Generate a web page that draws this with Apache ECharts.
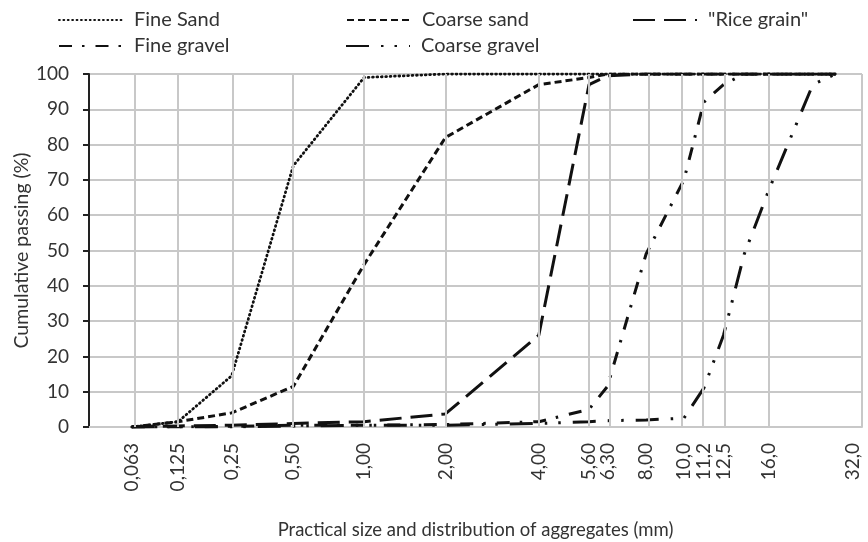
<!DOCTYPE html>
<html>
<head>
<meta charset="utf-8">
<script src="https://cdn.jsdelivr.net/npm/echarts@6/dist/echarts.min.js"></script>
<style>
  html, body { margin: 0; padding: 0; background: #fff; }
  #chart { width: 868px; height: 542px; }
</style>
</head>
<body>
<div id="chart"></div>
<script>
// Sieve sizes (mm) at which the cumulative passing was measured
const sieveSizes = [0.063, 0.125, 0.25, 0.5, 1, 2, 4, 5.6, 6.3, 8, 10, 11.2, 12.5, 14, 16, 20, 22.4];

// Cumulative passing (%) per aggregate, one value per sieve size
const fineSand     = [0, 1.5, 14.5, 74, 99, 100, 100, 100, 100, 100, 100, 100, 100, 100, 100, 100, 100];
const coarseSand   = [0, 1.5, 4, 11.5, 46, 82, 97, 99, 100, 100, 100, 100, 100, 100, 100, 100, 100];
const riceGrain    = [0, 0.3, 0.5, 1, 1.5, 3.7, 26, 97, 99.5, 100, 100, 100, 100, 100, 100, 100, 100];
const fineGravel   = [0, 0, 0.2, 0.5, 0.5, 0.7, 1.5, 5, 11.5, 49, 70, 92, 97, 100, 100, 100, 100];
const coarseGravel = [0, 0, 0, 0.3, 0.5, 0.5, 1, 1.5, 1.8, 2, 2.5, 11, 26, 49, 67.5, 97, 100];

// Labelled sieves on the size axis
const tickSizes  = [0.063, 0.125, 0.25, 0.5, 1, 2, 4, 5.6, 6.3, 8, 10, 11.2, 12.5, 16, 32];
const tickLabels = ['0,063', '0,125', '0,25', '0,50', '1,00', '2,00', '4,00', '5,60', '6,30', '8,00', '10,0', '11,2', '12,5', '16,0', '32,0'];

const yTicks = [0, 10, 20, 30, 40, 50, 60, 70, 80, 90, 100];

// Size axis uses a power-0.2 grading scale (d^0.2)
const EXP = 0.2;
const toAxis = d => Math.pow(d, EXP);
const X_MIN = 0.497;
const X_MAX = 1.9105;
// the open-ended top sieve is pinned just inside the frame
const tickPos = d => Math.min(toAxis(d), X_MAX - 0.016);

const tickValues = tickSizes.map(tickPos);
const gridValues = tickSizes.filter(d => toAxis(d) < X_MAX).map(toAxis).concat([X_MAX]);

function labelFor(v) {
  let best = 0, bestD = Infinity;
  tickValues.forEach((t, i) => {
    const dd = Math.abs(t - v);
    if (dd < bestD) { bestD = dd; best = i; }
  });
  return tickLabels[best];
}

const FONT = 'Lato';
const TEXT = '#333333';
const GRID = '#c8c8c8';

function pairs(values) {
  return sieveSizes.map((d, i) => [toAxis(d), values[i]]);
}

const seriesDefs = [
  { name: 'Fine Sand',     data: fineSand,     width: 2.8, type: [0.8, 3.6], cap: 'round' },
  { name: 'Coarse sand',   data: coarseSand,   width: 3,   type: [7, 4],     cap: 'butt' },
  { name: '"Rice grain"',  data: riceGrain,    width: 3,   type: [22, 9],    cap: 'butt' },
  { name: 'Fine gravel',   data: fineGravel,   width: 3,   type: [13, 10, 2.5, 11], cap: 'butt' },
  { name: 'Coarse gravel', data: coarseGravel, width: 3,   type: [23, 12, 2.5, 11, 2.5, 12], cap: 'butt' }
];

const series = seriesDefs.map(s => ({
  name: s.name,
  type: 'line',
  data: pairs(s.data),
  symbol: 'none',
  z: 3,
  lineStyle: { color: '#111', width: s.width, type: s.type, cap: s.cap, join: 'round' },
  itemStyle: { color: '#111' },
  emphasis: { disabled: true },
  silent: true
}));

// vertical sieve lines and right frame, drawn beneath the curves
series.unshift({
  name: 'grid',
  type: 'line',
  data: [],
  z: 1,
  silent: true,
  markLine: {
    silent: true,
    symbol: ['none', 'none'],
    label: { show: false },
    lineStyle: { color: GRID, type: 'solid', width: 2 },
    emphasis: { disabled: true },
    data: gridValues.map(v => ({ xAxis: v }))
  }
});

const legendRows = [
  { name: 'Fine Sand',     left: 58,  top: 10 },
  { name: 'Coarse sand',   left: 346, top: 10 },
  { name: '"Rice grain"',  left: 632, top: 10 },
  { name: 'Fine gravel',   left: 58,  top: 36 },
  { name: 'Coarse gravel', left: 345, top: 36 }
];

const legend = legendRows.map(l => ({
  data: [l.name],
  left: l.left,
  top: l.top,
  padding: 0,
  itemWidth: 64,
  itemHeight: 14,
  selectedMode: false,
  itemStyle: { opacity: 0 },
  textStyle: { fontFamily: FONT, fontSize: 20, color: TEXT, padding: [0, 0, 0, 6] }
}));

const chart = echarts.init(document.getElementById('chart'), null, { renderer: 'canvas' });
chart.setOption({
  animation: false,
  backgroundColor: '#fff',
  legend: legend,
  grid: { left: 89, right: 6, top: 74, bottom: 115, containLabel: false, outerBoundsMode: 'none' },
  xAxis: {
    type: 'value',
    min: X_MIN,
    max: X_MAX,
    name: 'Practical size and distribution of aggregates (mm)',
    nameLocation: 'middle',
    nameGap: 94,
    nameMoveOverlap: false,
    nameTextStyle: { fontFamily: FONT, fontSize: 18.5, color: TEXT },
    axisLine: { show: true, lineStyle: { color: GRID, width: 2 } },
    axisTick: { show: false, customValues: tickValues },
    splitLine: { show: false },
    axisLabel: {
      customValues: tickValues,
      rotate: 90,
      margin: 16,
      fontFamily: FONT,
      fontSize: 19,
      color: TEXT,
      formatter: v => labelFor(v)
    }
  },
  yAxis: {
    type: 'value',
    min: 0,
    max: 100,
    interval: 10,
    name: 'Cumulative passing (%)',
    nameLocation: 'middle',
    nameGap: 57,
    nameMoveOverlap: false,
    nameTextStyle: { fontFamily: FONT, fontSize: 19.5, color: TEXT },
    axisLine: { show: true, lineStyle: { color: '#222', width: 2 } },
    axisTick: { show: true, inside: false, length: 6, lineStyle: { color: '#222', width: 2 } },
    splitLine: { show: true, lineStyle: { color: GRID, width: 2 } },
    axisLabel: {
      margin: 20,
      fontFamily: FONT,
      fontSize: 19,
      color: TEXT,
      formatter: v => (yTicks.indexOf(v) >= 0 ? String(v) : '')
    }
  },
  series: series
});
</script>
</body>
</html>
